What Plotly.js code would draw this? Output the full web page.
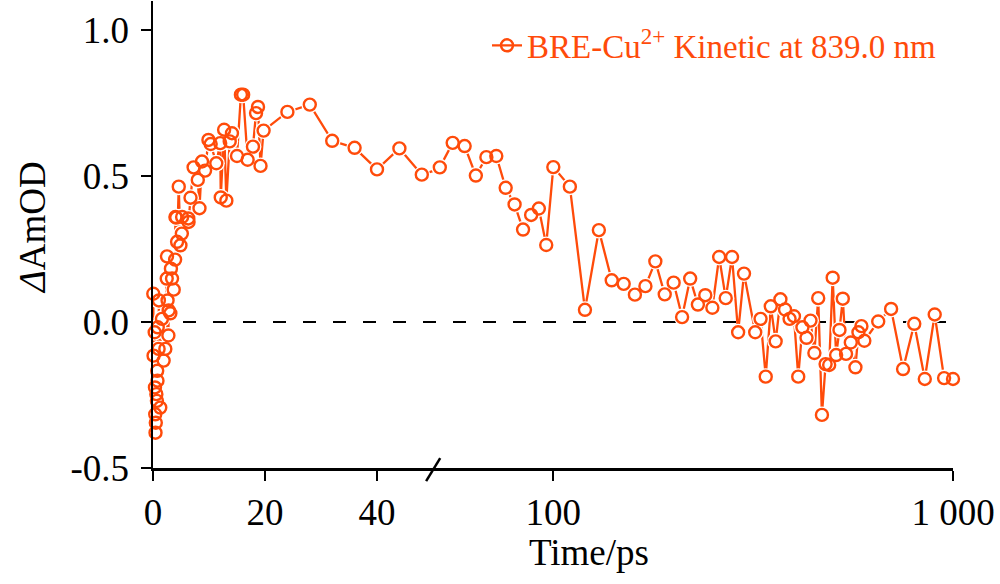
<!DOCTYPE html>
<html><head><meta charset="utf-8">
<script src="https://cdn.plot.ly/plotly-3.0.1.min.js"></script>
<style>html,body{margin:0;padding:0;background:#fff}#chart{width:1000px;height:584px}</style>
</head><body><div id="chart"></div>
<script>
// Data (time in ps, signal in mOD)
const timeEarly = [-0.25,-0.15,0.05,0.1,0.3,0.35,0.4,0.45,0.5,0.6,0.7,0.75,0.8,0.85,1.0,1.05,1.3,1.6,1.9,2.2,2.45,2.5,2.6,2.75,2.8,3.1,3.2,3.4,3.7,3.95,4.0,4.15,4.3,4.6,4.9,5.15,5.2,6.3,6.35,6.7,7.25,8.0,8.3,8.75,9.3,9.9,10.3,11.3,12.0,12.1,12.7,13.1,13.7,14.1,15.0,15.7,16.1,16.9,17.85,18.4,18.75,19.2,19.75,24,28,32,36,40,44,48];
const valEarly = [0.017,-0.075,0.097,-0.115,-0.035,-0.224,-0.316,-0.379,-0.345,-0.247,-0.27,-0.167,-0.201,-0.018,-0.092,0.074,-0.293,0.011,-0.132,-0.092,0.149,0.225,0.074,-0.046,0.04,0.03,0.183,0.149,0.111,0.214,0.36,0.358,0.275,0.464,0.263,0.303,0.36,0.355,0.343,0.426,0.53,0.487,0.39,0.55,0.519,0.624,0.61,0.544,0.613,0.427,0.659,0.416,0.619,0.647,0.569,0.779,0.779,0.556,0.601,0.716,0.737,0.535,0.656,0.72,0.745,0.621,0.597,0.523,0.595,0.505];
const timeLate = [52,56,60,64,68,72,76,80,84,88,92,96,100,110,120,130,140,150,160,170,180,190,200,210,220,230,240,250,260,270,280,290,300,320,330,340,350,360,370,380,390,400,410,420,430,440,450,460,470,480,490,500,510,520,530,540,555,570,580,590,600,650,700,750,800,850,900,950,1000];
const valLate = [0.530,0.614,0.603,0.502,0.565,0.569,0.46,0.403,0.317,0.367,0.389,0.264,0.531,0.464,0.042,0.315,0.143,0.131,0.094,0.123,0.208,0.095,0.135,0.017,0.149,0.06,0.092,0.049,0.223,0.082,0.223,-0.035,0.166,-0.035,0.011,-0.187,0.054,-0.066,0.078,0.043,0.011,0.02,-0.187,-0.018,-0.054,0.005,-0.106,0.082,-0.318,-0.144,-0.147,0.152,-0.113,-0.027,0.08,-0.109,-0.07,-0.155,-0.035,-0.014,-0.064,0.002,0.045,-0.161,-0.006,-0.195,0.026,-0.192,-0.195];

const yTickVals = [-0.5, 0, 0.5, 1];
const yTickText = ['-0.5', '0.0', '0.5', '1.0'];
const xTickValsLin = [0, 20, 40];
const xTickValsLog = [100, 1000];
const xTickTextLog = ['100', '1 000'];
const seriesName = 'BRE-Cu<sup>2+</sup> Kinetic at 839.0 nm';
const xTitle = 'Time/ps';
const yTitle = '<i>Δ</i>AmOD';

const ORANGE = '#ff4b0a';
const FONT = '"Liberation Serif", "Times New Roman", serif';

// line pieces overlap the break by one point each, so the clipped lines join at 50 ps
const lastE = timeEarly.length - 1;
const lineLinX = timeEarly.concat([timeLate[0]]);
const lineLinY = valEarly.concat([valLate[0]]);
const lineLogX = [timeEarly[lastE]].concat(timeLate);
const lineLogY = [valEarly[lastE]].concat(valLate);

const outline = {size: 12, color: 'rgba(0,0,0,0)', line: {color: ORANGE, width: 2.4}};
const fill = {size: 17, color: '#ffffff', line: {width: 0}};

const traces = [
  {x: lineLinX, y: lineLinY, xaxis: 'x', yaxis: 'y', mode: 'lines', line: {color: ORANGE, width: 2.3}, showlegend: false, hoverinfo: 'skip'},
  {x: lineLogX, y: lineLogY, xaxis: 'x2', yaxis: 'y', mode: 'lines+markers', name: seriesName, line: {color: ORANGE, width: 2.3}, marker: outline, showlegend: true},
  {x: timeEarly, y: valEarly, xaxis: 'x', yaxis: 'y', mode: 'markers', marker: fill, cliponaxis: false, showlegend: false, hoverinfo: 'skip'},
  {x: timeLate, y: valLate, xaxis: 'x2', yaxis: 'y', mode: 'markers', marker: fill, cliponaxis: false, showlegend: false, hoverinfo: 'skip'},
  {x: timeEarly, y: valEarly, xaxis: 'x', yaxis: 'y', mode: 'markers', marker: outline, cliponaxis: false, showlegend: false},
  {x: timeLate, y: valLate, xaxis: 'x2', yaxis: 'y', mode: 'markers', marker: outline, cliponaxis: false, showlegend: false}
];

const axisStyle = {
  ticks: 'outside', ticklen: 10, tickwidth: 2, tickcolor: '#000',
  showline: true, linewidth: 2.5, linecolor: '#000',
  showgrid: false, zeroline: false,
  tickfont: {family: FONT, size: 37, color: '#000'}
};

const layout = {
  width: 1000, height: 584,
  margin: {l: 152.7, r: 47.3, t: 1, b: 116, pad: 0},
  paper_bgcolor: '#ffffff', plot_bgcolor: '#ffffff',
  font: {family: FONT, size: 37, color: '#000'},
  showlegend: true,
  legend: {x: 0.985, xanchor: 'right', y: 0.905, yanchor: 'middle',
           font: {family: FONT, size: 33, color: ORANGE}, bgcolor: 'rgba(0,0,0,0)'},
  xaxis: Object.assign({domain: [0, 0.35], range: [0, 50], tickvals: xTickValsLin, anchor: 'y'}, axisStyle),
  xaxis2: Object.assign({domain: [0.35, 1], type: 'log', range: [Math.log10(50), 3],
                         tickvals: xTickValsLog, ticktext: xTickTextLog, anchor: 'y'}, axisStyle),
  yaxis: Object.assign({domain: [0, 1], range: [-0.5, 1.1], tickvals: yTickVals, ticktext: yTickText,
                        anchor: 'x', ticklabelstandoff: 4}, axisStyle),
  shapes: [
    {type: 'line', xref: 'paper', yref: 'y', x0: 0, x1: 1, y0: 0, y1: 0, layer: 'below',
     line: {color: '#000', width: 2, dash: '13px,17px'}},
    {type: 'line', xref: 'paper', yref: 'paper', x0: 0.3414, y0: -0.028, x1: 0.359, y1: 0.021,
     line: {color: '#000', width: 2.5}}
  ],
  annotations: [
    {text: xTitle, xref: 'paper', yref: 'paper', x: 0.545, y: -0.182, xanchor: 'center', yanchor: 'middle',
     showarrow: false, font: {family: FONT, size: 37, color: '#000'}},
    {text: yTitle, xref: 'paper', yref: 'paper', x: -0.15, y: 0.514, xanchor: 'center', yanchor: 'middle',
     textangle: -90, showarrow: false, font: {family: FONT, size: 37, color: '#000'}}
  ]
};

Plotly.newPlot('chart', traces, layout, {displayModeBar: false, staticPlot: true});
</script>
</body></html>
